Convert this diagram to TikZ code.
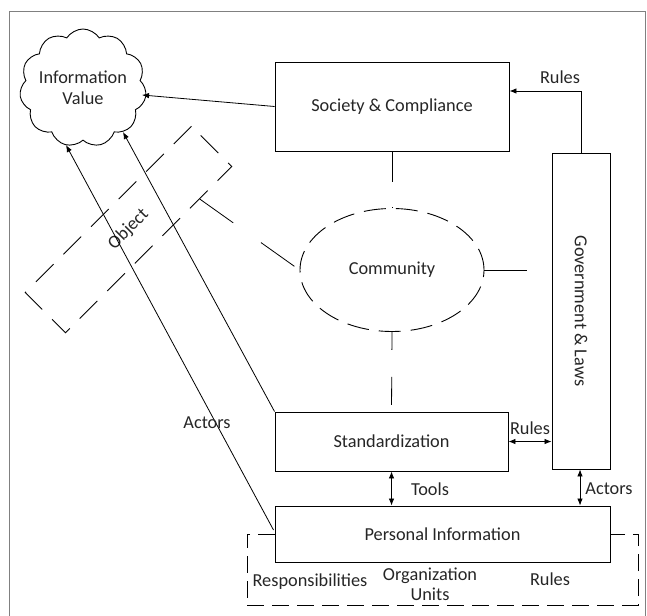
\documentclass[tikz,border=0pt]{standalone}
\usepackage{fontspec}
\setmainfont{Carlito}
\usetikzlibrary{shapes.geometric,shapes.symbols,arrows.meta,calc}
\begin{document}
\begin{tikzpicture}[x=1pt,y=-1pt,
  every node/.style={text=black!85, font=\fontsize{18.3}{22}\selectfont},
  box/.style={draw, line width=0.9pt, fill=white, inner sep=0pt, minimum width=#1},
  lbl/.style={inner sep=0pt},
  conn/.style={line width=0.8pt},
  arr/.style={line width=0.8pt, -{Latex[length=7pt,width=5.5pt]}},
  darr/.style={line width=0.8pt, {Latex[length=7pt,width=5.5pt]}-{Latex[length=7pt,width=5.5pt]}},
]
\useasboundingbox (0,0) rectangle (647,615);
% frame
\draw[gray, line width=0.9pt] (9.5,616) -- (9.5,11.5) -- (645.5,11.5) -- (645.5,616);

% bottom dashed group
\node[draw, line width=0.9pt, dash pattern=on 17pt off 8pt, minimum width=391pt, minimum height=71pt, inner sep=0pt] (grp) at (442.5,569.5) {};

% cloud
\node[draw, line width=0.9pt, cloud, cloud puffs=11, cloud puff arc=115, cloud ignores aspect, minimum width=112pt, minimum height=118pt, inner sep=0pt, align=center] (iv) at (83,88) {Information\\[-1pt]Value};

% boxes
\node[box=234pt, minimum height=89pt] (soc) at (392,106.5) {Society \& Compliance};
\node[box=58pt, minimum height=316pt] (gov) at (581,311) {};
\node[lbl, rotate=-90] (govt) at (gov.center) {Government \& Laws};
\node[box=233pt, minimum height=59pt] (std) at (391.5,441.5) {Standardization};
\node[box=335pt, minimum height=56pt] (pi) at (442.5,534) {Personal Information};

% community ellipse
\node[draw, ellipse, line width=0.9pt, dash pattern=on 22pt off 10pt, minimum width=184pt, minimum height=123pt, inner sep=0pt] (com) at (392,270) {Community};

% object box
\node[draw, line width=0.9pt, dash pattern=on 25pt off 14pt, rotate=45, minimum width=235pt, minimum height=57pt, inner sep=0pt] (obj) at (128.5,229.5) {Object};

% group labels
\node[lbl] (resp) at (310,582) {Responsibilities};
\node[lbl, align=center] (org) at (430,584) {Organization\\[-2pt]Units};
\node[lbl] (grules) at (550,579) {Rules};

% arrow tips on cloud
\coordinate (ivE) at (142,95);
\coordinate (ivS) at (123,132);
\coordinate (ivW) at (66,145);

% arrows to cloud
\draw[arr] (soc.west) -- (ivE);
\draw[arr] (std.north west) -- (ivS);
\coordinate (piL) at (273.5,530);
\draw[arr] (piL) -- (ivW);
\node[lbl] (actL) at (207,423) {Actors};

% rules from gov to society
\draw[arr] (gov.north) -- (gov.north |- 0,91) -- (soc.east |- 0,91);
\node[lbl] (rulesT) at (560,77) {Rules};

% dashed connectors around community
\draw[conn, dash pattern=on 31pt off 25pt] (soc.south) -- (com.north);
\draw[conn, dash pattern=on 18pt off 27pt on 28pt off 27pt] (com.south) -- (std.north);
\draw[conn, dash pattern=on 43pt off 25pt] (com.east) -- (com.east -| gov.west);
\coordinate (objP) at ($(obj.south)!0.61!(obj.south east)$);
\draw[conn, dash pattern=on 41pt off 34pt] (objP) -- (com.west);

% double arrows
\draw[darr] (std.east) -- (std.east -| gov.west);
\node[lbl] (rulesM) at (530,428) {Rules};
\draw[darr] (std.south) -- (std.south |- pi.north);
\node[lbl] (tools) at (430,489) {Tools};
\draw[darr] (gov.south -| 580,0) -- (pi.north -| 580,0);
\node[lbl] (actR) at (609,489) {Actors};
\end{tikzpicture}
\end{document}
